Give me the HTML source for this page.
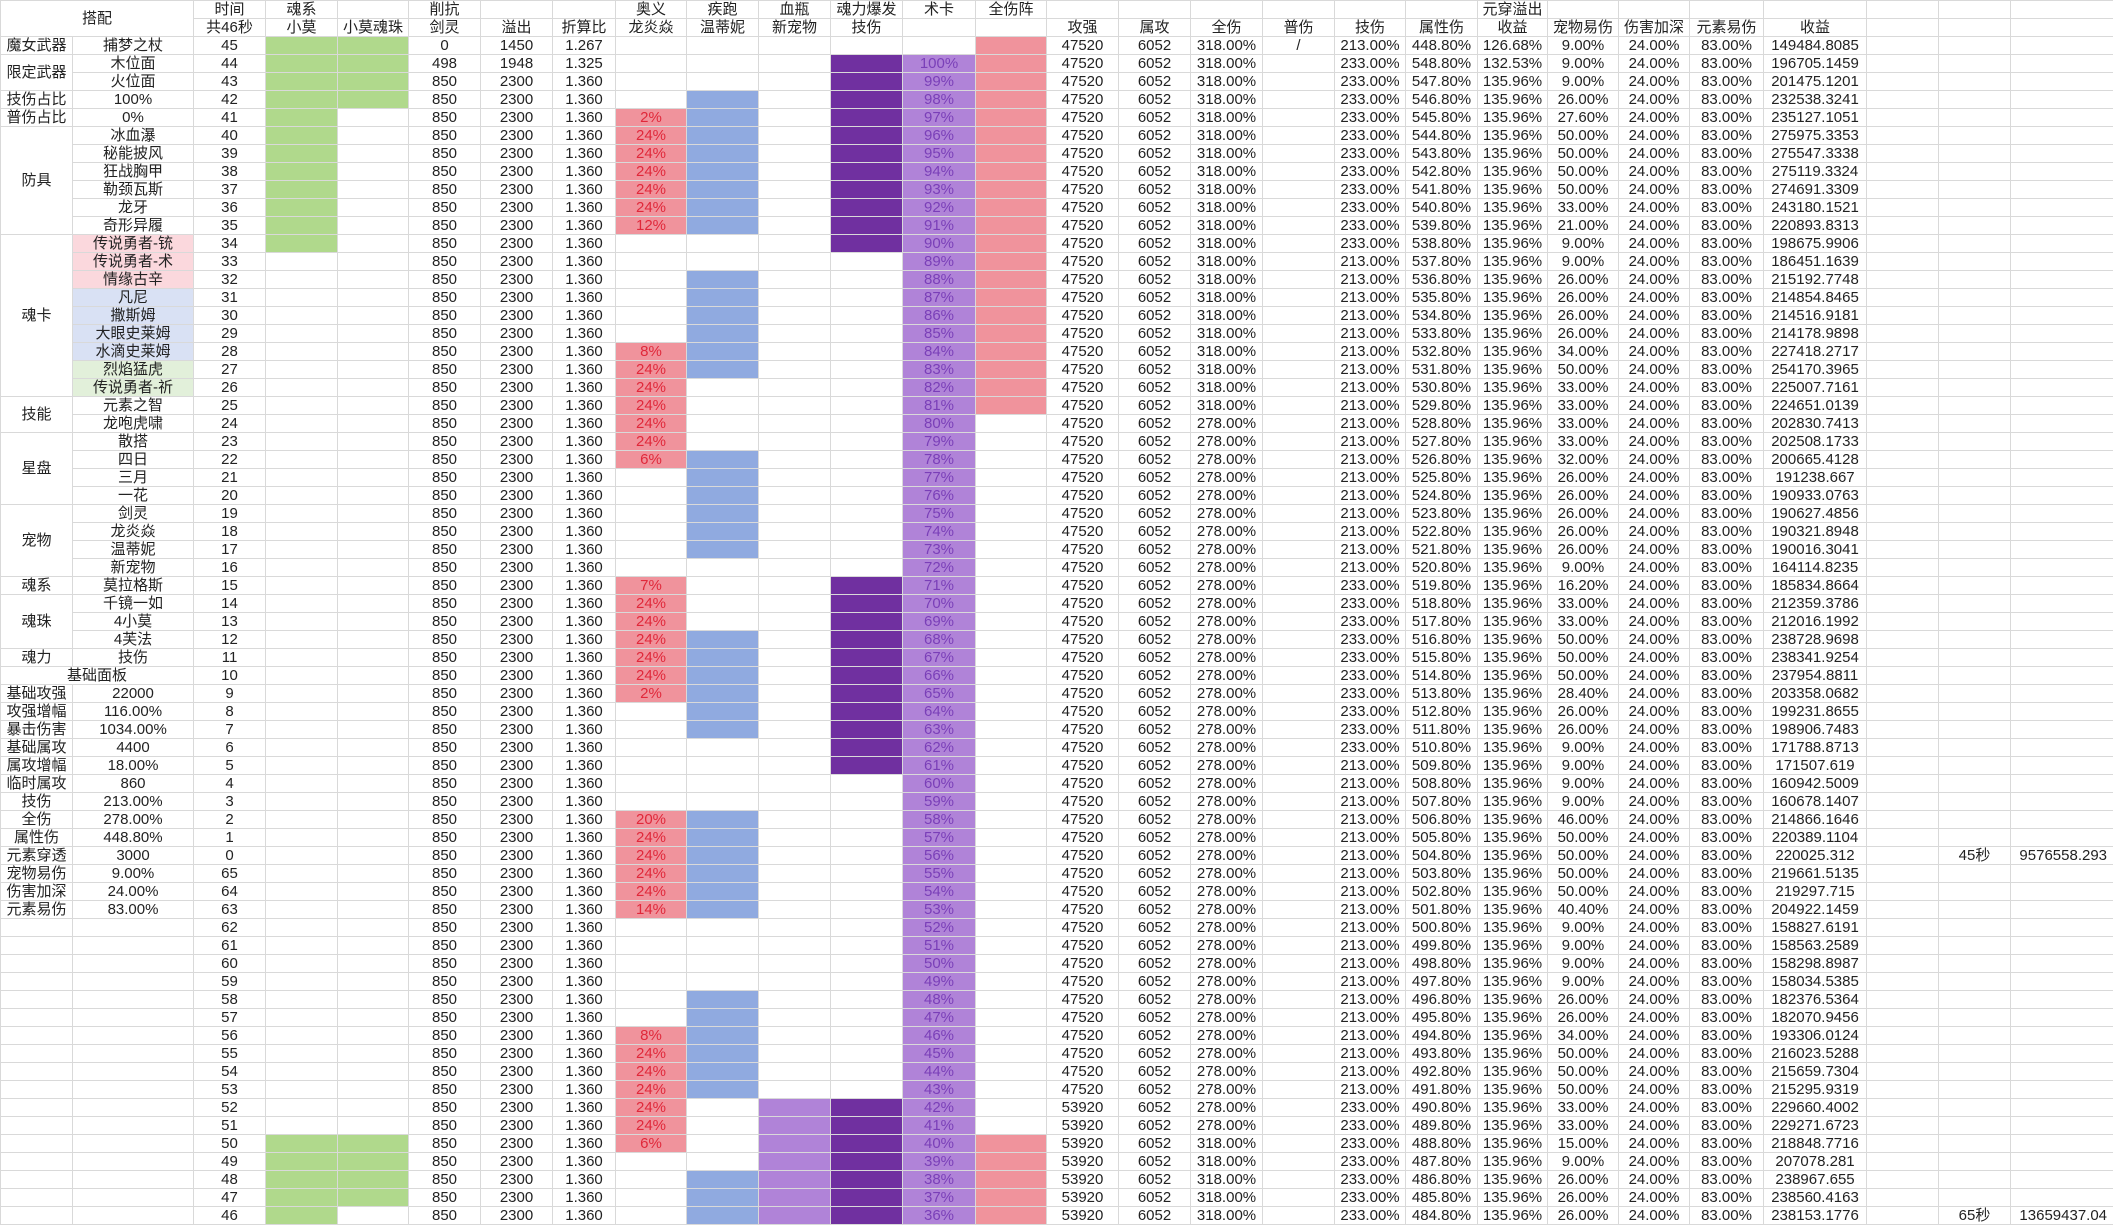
<!DOCTYPE html>
<html><head><meta charset="utf-8">
<style>
html,body{margin:0;padding:0;background:#fff;width:2113px;height:1226px;overflow:hidden}
table{border-collapse:collapse;table-layout:fixed;width:2113px}
td{height:17px;padding:0;border:1px solid #d9d9d9;text-align:center;font-family:"Liberation Sans","Noto Sans CJK SC",sans-serif;font-size:15px;line-height:17px;white-space:nowrap;overflow:hidden;color:#222}
tr{height:18px}
.g{background:#b0d98c}
.p{background:#f0939c;color:#e0283a}
.b{background:#90aae0}
.l{background:#b083d8}
.d{background:#7030a0}
.m{background:#b083d8;color:#7a3fb8}
.n{background:#f0939c}
.pk{background:#fbd8dd}
.bl{background:#d9e1f4}
.gr{background:#e2f0da}
.rr{text-align:right;padding-right:6px}
</style></head><body>
<table>
<colgroup>
<col style="width:72px"><col style="width:121px"><col style="width:72px"><col style="width:72px"><col style="width:71px"><col style="width:72px"><col style="width:72px"><col style="width:63px"><col style="width:71px"><col style="width:72px"><col style="width:72px"><col style="width:72px"><col style="width:73px"><col style="width:71px"><col style="width:72px"><col style="width:72px"><col style="width:72px"><col style="width:72px"><col style="width:71px"><col style="width:72px"><col style="width:70px"><col style="width:71px"><col style="width:71px"><col style="width:74px"><col style="width:103px"><col style="width:72px"><col style="width:72px"><col style="width:103px">
</colgroup>
<tr><td colspan="2" rowspan="2">搭配</td><td>时间</td><td>魂系</td><td></td><td>削抗</td><td></td><td></td><td>奥义</td><td>疾跑</td><td>血瓶</td><td>魂力爆发</td><td>术卡</td><td>全伤阵</td><td></td><td></td><td></td><td></td><td></td><td></td><td>元穿溢出</td><td></td><td></td><td></td><td></td><td></td><td></td><td></td></tr>
<tr><td>共46秒</td><td>小莫</td><td>小莫魂珠</td><td>剑灵</td><td>溢出</td><td>折算比</td><td>龙炎焱</td><td>温蒂妮</td><td>新宠物</td><td>技伤</td><td></td><td></td><td>攻强</td><td>属攻</td><td>全伤</td><td>普伤</td><td>技伤</td><td>属性伤</td><td>收益</td><td>宠物易伤</td><td>伤害加深</td><td>元素易伤</td><td>收益</td><td></td><td></td><td></td></tr>

<tr><td>魔女武器</td><td>捕梦之杖</td><td>45</td><td class="g"></td><td class="g"></td><td>0</td><td>1450</td><td>1.267</td><td></td><td></td><td></td><td></td><td></td><td class="n"></td><td>47520</td><td>6052</td><td>318.00%</td><td>/</td><td>213.00%</td><td>448.80%</td><td>126.68%</td><td>9.00%</td><td>24.00%</td><td>83.00%</td><td>149484.8085</td><td></td><td></td><td></td></tr>
<tr><td rowspan="2">限定武器</td><td>木位面</td><td>44</td><td class="g"></td><td class="g"></td><td>498</td><td>1948</td><td>1.325</td><td></td><td></td><td></td><td class="d"></td><td class="m">100%</td><td class="n"></td><td>47520</td><td>6052</td><td>318.00%</td><td></td><td>233.00%</td><td>548.80%</td><td>132.53%</td><td>9.00%</td><td>24.00%</td><td>83.00%</td><td>196705.1459</td><td></td><td></td><td></td></tr>
<tr><td>火位面</td><td>43</td><td class="g"></td><td class="g"></td><td>850</td><td>2300</td><td>1.360</td><td></td><td></td><td></td><td class="d"></td><td class="m">99%</td><td class="n"></td><td>47520</td><td>6052</td><td>318.00%</td><td></td><td>233.00%</td><td>547.80%</td><td>135.96%</td><td>9.00%</td><td>24.00%</td><td>83.00%</td><td>201475.1201</td><td></td><td></td><td></td></tr>
<tr><td>技伤占比</td><td>100%</td><td>42</td><td class="g"></td><td class="g"></td><td>850</td><td>2300</td><td>1.360</td><td></td><td class="b"></td><td></td><td class="d"></td><td class="m">98%</td><td class="n"></td><td>47520</td><td>6052</td><td>318.00%</td><td></td><td>233.00%</td><td>546.80%</td><td>135.96%</td><td>26.00%</td><td>24.00%</td><td>83.00%</td><td>232538.3241</td><td></td><td></td><td></td></tr>
<tr><td>普伤占比</td><td>0%</td><td>41</td><td class="g"></td><td></td><td>850</td><td>2300</td><td>1.360</td><td class="p">2%</td><td class="b"></td><td></td><td class="d"></td><td class="m">97%</td><td class="n"></td><td>47520</td><td>6052</td><td>318.00%</td><td></td><td>233.00%</td><td>545.80%</td><td>135.96%</td><td>27.60%</td><td>24.00%</td><td>83.00%</td><td>235127.1051</td><td></td><td></td><td></td></tr>
<tr><td rowspan="6">防具</td><td>冰血瀑</td><td>40</td><td class="g"></td><td></td><td>850</td><td>2300</td><td>1.360</td><td class="p">24%</td><td class="b"></td><td></td><td class="d"></td><td class="m">96%</td><td class="n"></td><td>47520</td><td>6052</td><td>318.00%</td><td></td><td>233.00%</td><td>544.80%</td><td>135.96%</td><td>50.00%</td><td>24.00%</td><td>83.00%</td><td>275975.3353</td><td></td><td></td><td></td></tr>
<tr><td>秘能披风</td><td>39</td><td class="g"></td><td></td><td>850</td><td>2300</td><td>1.360</td><td class="p">24%</td><td class="b"></td><td></td><td class="d"></td><td class="m">95%</td><td class="n"></td><td>47520</td><td>6052</td><td>318.00%</td><td></td><td>233.00%</td><td>543.80%</td><td>135.96%</td><td>50.00%</td><td>24.00%</td><td>83.00%</td><td>275547.3338</td><td></td><td></td><td></td></tr>
<tr><td>狂战胸甲</td><td>38</td><td class="g"></td><td></td><td>850</td><td>2300</td><td>1.360</td><td class="p">24%</td><td class="b"></td><td></td><td class="d"></td><td class="m">94%</td><td class="n"></td><td>47520</td><td>6052</td><td>318.00%</td><td></td><td>233.00%</td><td>542.80%</td><td>135.96%</td><td>50.00%</td><td>24.00%</td><td>83.00%</td><td>275119.3324</td><td></td><td></td><td></td></tr>
<tr><td>勒颈瓦斯</td><td>37</td><td class="g"></td><td></td><td>850</td><td>2300</td><td>1.360</td><td class="p">24%</td><td class="b"></td><td></td><td class="d"></td><td class="m">93%</td><td class="n"></td><td>47520</td><td>6052</td><td>318.00%</td><td></td><td>233.00%</td><td>541.80%</td><td>135.96%</td><td>50.00%</td><td>24.00%</td><td>83.00%</td><td>274691.3309</td><td></td><td></td><td></td></tr>
<tr><td>龙牙</td><td>36</td><td class="g"></td><td></td><td>850</td><td>2300</td><td>1.360</td><td class="p">24%</td><td class="b"></td><td></td><td class="d"></td><td class="m">92%</td><td class="n"></td><td>47520</td><td>6052</td><td>318.00%</td><td></td><td>233.00%</td><td>540.80%</td><td>135.96%</td><td>33.00%</td><td>24.00%</td><td>83.00%</td><td>243180.1521</td><td></td><td></td><td></td></tr>
<tr><td>奇形异履</td><td>35</td><td class="g"></td><td></td><td>850</td><td>2300</td><td>1.360</td><td class="p">12%</td><td class="b"></td><td></td><td class="d"></td><td class="m">91%</td><td class="n"></td><td>47520</td><td>6052</td><td>318.00%</td><td></td><td>233.00%</td><td>539.80%</td><td>135.96%</td><td>21.00%</td><td>24.00%</td><td>83.00%</td><td>220893.8313</td><td></td><td></td><td></td></tr>
<tr><td rowspan="9">魂卡</td><td class="pk">传说勇者-铳</td><td>34</td><td class="g"></td><td></td><td>850</td><td>2300</td><td>1.360</td><td></td><td></td><td></td><td class="d"></td><td class="m">90%</td><td class="n"></td><td>47520</td><td>6052</td><td>318.00%</td><td></td><td>233.00%</td><td>538.80%</td><td>135.96%</td><td>9.00%</td><td>24.00%</td><td>83.00%</td><td>198675.9906</td><td></td><td></td><td></td></tr>
<tr><td class="pk">传说勇者-术</td><td>33</td><td></td><td></td><td>850</td><td>2300</td><td>1.360</td><td></td><td></td><td></td><td></td><td class="m">89%</td><td class="n"></td><td>47520</td><td>6052</td><td>318.00%</td><td></td><td>213.00%</td><td>537.80%</td><td>135.96%</td><td>9.00%</td><td>24.00%</td><td>83.00%</td><td>186451.1639</td><td></td><td></td><td></td></tr>
<tr><td class="pk">情缘古辛</td><td>32</td><td></td><td></td><td>850</td><td>2300</td><td>1.360</td><td></td><td class="b"></td><td></td><td></td><td class="m">88%</td><td class="n"></td><td>47520</td><td>6052</td><td>318.00%</td><td></td><td>213.00%</td><td>536.80%</td><td>135.96%</td><td>26.00%</td><td>24.00%</td><td>83.00%</td><td>215192.7748</td><td></td><td></td><td></td></tr>
<tr><td class="bl">凡尼</td><td>31</td><td></td><td></td><td>850</td><td>2300</td><td>1.360</td><td></td><td class="b"></td><td></td><td></td><td class="m">87%</td><td class="n"></td><td>47520</td><td>6052</td><td>318.00%</td><td></td><td>213.00%</td><td>535.80%</td><td>135.96%</td><td>26.00%</td><td>24.00%</td><td>83.00%</td><td>214854.8465</td><td></td><td></td><td></td></tr>
<tr><td class="bl">撒斯姆</td><td>30</td><td></td><td></td><td>850</td><td>2300</td><td>1.360</td><td></td><td class="b"></td><td></td><td></td><td class="m">86%</td><td class="n"></td><td>47520</td><td>6052</td><td>318.00%</td><td></td><td>213.00%</td><td>534.80%</td><td>135.96%</td><td>26.00%</td><td>24.00%</td><td>83.00%</td><td>214516.9181</td><td></td><td></td><td></td></tr>
<tr><td class="bl">大眼史莱姆</td><td>29</td><td></td><td></td><td>850</td><td>2300</td><td>1.360</td><td></td><td class="b"></td><td></td><td></td><td class="m">85%</td><td class="n"></td><td>47520</td><td>6052</td><td>318.00%</td><td></td><td>213.00%</td><td>533.80%</td><td>135.96%</td><td>26.00%</td><td>24.00%</td><td>83.00%</td><td>214178.9898</td><td></td><td></td><td></td></tr>
<tr><td class="bl">水滴史莱姆</td><td>28</td><td></td><td></td><td>850</td><td>2300</td><td>1.360</td><td class="p">8%</td><td class="b"></td><td></td><td></td><td class="m">84%</td><td class="n"></td><td>47520</td><td>6052</td><td>318.00%</td><td></td><td>213.00%</td><td>532.80%</td><td>135.96%</td><td>34.00%</td><td>24.00%</td><td>83.00%</td><td>227418.2717</td><td></td><td></td><td></td></tr>
<tr><td class="gr">烈焰猛虎</td><td>27</td><td></td><td></td><td>850</td><td>2300</td><td>1.360</td><td class="p">24%</td><td class="b"></td><td></td><td></td><td class="m">83%</td><td class="n"></td><td>47520</td><td>6052</td><td>318.00%</td><td></td><td>213.00%</td><td>531.80%</td><td>135.96%</td><td>50.00%</td><td>24.00%</td><td>83.00%</td><td>254170.3965</td><td></td><td></td><td></td></tr>
<tr><td class="gr">传说勇者-祈</td><td>26</td><td></td><td></td><td>850</td><td>2300</td><td>1.360</td><td class="p">24%</td><td></td><td></td><td></td><td class="m">82%</td><td class="n"></td><td>47520</td><td>6052</td><td>318.00%</td><td></td><td>213.00%</td><td>530.80%</td><td>135.96%</td><td>33.00%</td><td>24.00%</td><td>83.00%</td><td>225007.7161</td><td></td><td></td><td></td></tr>
<tr><td rowspan="2">技能</td><td>元素之智</td><td>25</td><td></td><td></td><td>850</td><td>2300</td><td>1.360</td><td class="p">24%</td><td></td><td></td><td></td><td class="m">81%</td><td class="n"></td><td>47520</td><td>6052</td><td>318.00%</td><td></td><td>213.00%</td><td>529.80%</td><td>135.96%</td><td>33.00%</td><td>24.00%</td><td>83.00%</td><td>224651.0139</td><td></td><td></td><td></td></tr>
<tr><td>龙咆虎啸</td><td>24</td><td></td><td></td><td>850</td><td>2300</td><td>1.360</td><td class="p">24%</td><td></td><td></td><td></td><td class="m">80%</td><td></td><td>47520</td><td>6052</td><td>278.00%</td><td></td><td>213.00%</td><td>528.80%</td><td>135.96%</td><td>33.00%</td><td>24.00%</td><td>83.00%</td><td>202830.7413</td><td></td><td></td><td></td></tr>
<tr><td rowspan="4">星盘</td><td>散搭</td><td>23</td><td></td><td></td><td>850</td><td>2300</td><td>1.360</td><td class="p">24%</td><td></td><td></td><td></td><td class="m">79%</td><td></td><td>47520</td><td>6052</td><td>278.00%</td><td></td><td>213.00%</td><td>527.80%</td><td>135.96%</td><td>33.00%</td><td>24.00%</td><td>83.00%</td><td>202508.1733</td><td></td><td></td><td></td></tr>
<tr><td>四日</td><td>22</td><td></td><td></td><td>850</td><td>2300</td><td>1.360</td><td class="p">6%</td><td class="b"></td><td></td><td></td><td class="m">78%</td><td></td><td>47520</td><td>6052</td><td>278.00%</td><td></td><td>213.00%</td><td>526.80%</td><td>135.96%</td><td>32.00%</td><td>24.00%</td><td>83.00%</td><td>200665.4128</td><td></td><td></td><td></td></tr>
<tr><td>三月</td><td>21</td><td></td><td></td><td>850</td><td>2300</td><td>1.360</td><td></td><td class="b"></td><td></td><td></td><td class="m">77%</td><td></td><td>47520</td><td>6052</td><td>278.00%</td><td></td><td>213.00%</td><td>525.80%</td><td>135.96%</td><td>26.00%</td><td>24.00%</td><td>83.00%</td><td>191238.667</td><td></td><td></td><td></td></tr>
<tr><td>一花</td><td>20</td><td></td><td></td><td>850</td><td>2300</td><td>1.360</td><td></td><td class="b"></td><td></td><td></td><td class="m">76%</td><td></td><td>47520</td><td>6052</td><td>278.00%</td><td></td><td>213.00%</td><td>524.80%</td><td>135.96%</td><td>26.00%</td><td>24.00%</td><td>83.00%</td><td>190933.0763</td><td></td><td></td><td></td></tr>
<tr><td rowspan="4">宠物</td><td>剑灵</td><td>19</td><td></td><td></td><td>850</td><td>2300</td><td>1.360</td><td></td><td class="b"></td><td></td><td></td><td class="m">75%</td><td></td><td>47520</td><td>6052</td><td>278.00%</td><td></td><td>213.00%</td><td>523.80%</td><td>135.96%</td><td>26.00%</td><td>24.00%</td><td>83.00%</td><td>190627.4856</td><td></td><td></td><td></td></tr>
<tr><td>龙炎焱</td><td>18</td><td></td><td></td><td>850</td><td>2300</td><td>1.360</td><td></td><td class="b"></td><td></td><td></td><td class="m">74%</td><td></td><td>47520</td><td>6052</td><td>278.00%</td><td></td><td>213.00%</td><td>522.80%</td><td>135.96%</td><td>26.00%</td><td>24.00%</td><td>83.00%</td><td>190321.8948</td><td></td><td></td><td></td></tr>
<tr><td>温蒂妮</td><td>17</td><td></td><td></td><td>850</td><td>2300</td><td>1.360</td><td></td><td class="b"></td><td></td><td></td><td class="m">73%</td><td></td><td>47520</td><td>6052</td><td>278.00%</td><td></td><td>213.00%</td><td>521.80%</td><td>135.96%</td><td>26.00%</td><td>24.00%</td><td>83.00%</td><td>190016.3041</td><td></td><td></td><td></td></tr>
<tr><td>新宠物</td><td>16</td><td></td><td></td><td>850</td><td>2300</td><td>1.360</td><td></td><td></td><td></td><td></td><td class="m">72%</td><td></td><td>47520</td><td>6052</td><td>278.00%</td><td></td><td>213.00%</td><td>520.80%</td><td>135.96%</td><td>9.00%</td><td>24.00%</td><td>83.00%</td><td>164114.8235</td><td></td><td></td><td></td></tr>
<tr><td>魂系</td><td>莫拉格斯</td><td>15</td><td></td><td></td><td>850</td><td>2300</td><td>1.360</td><td class="p">7%</td><td></td><td></td><td class="d"></td><td class="m">71%</td><td></td><td>47520</td><td>6052</td><td>278.00%</td><td></td><td>233.00%</td><td>519.80%</td><td>135.96%</td><td>16.20%</td><td>24.00%</td><td>83.00%</td><td>185834.8664</td><td></td><td></td><td></td></tr>
<tr><td rowspan="3">魂珠</td><td>千镜一如</td><td>14</td><td></td><td></td><td>850</td><td>2300</td><td>1.360</td><td class="p">24%</td><td></td><td></td><td class="d"></td><td class="m">70%</td><td></td><td>47520</td><td>6052</td><td>278.00%</td><td></td><td>233.00%</td><td>518.80%</td><td>135.96%</td><td>33.00%</td><td>24.00%</td><td>83.00%</td><td>212359.3786</td><td></td><td></td><td></td></tr>
<tr><td>4小莫</td><td>13</td><td></td><td></td><td>850</td><td>2300</td><td>1.360</td><td class="p">24%</td><td></td><td></td><td class="d"></td><td class="m">69%</td><td></td><td>47520</td><td>6052</td><td>278.00%</td><td></td><td>233.00%</td><td>517.80%</td><td>135.96%</td><td>33.00%</td><td>24.00%</td><td>83.00%</td><td>212016.1992</td><td></td><td></td><td></td></tr>
<tr><td>4芙法</td><td>12</td><td></td><td></td><td>850</td><td>2300</td><td>1.360</td><td class="p">24%</td><td class="b"></td><td></td><td class="d"></td><td class="m">68%</td><td></td><td>47520</td><td>6052</td><td>278.00%</td><td></td><td>233.00%</td><td>516.80%</td><td>135.96%</td><td>50.00%</td><td>24.00%</td><td>83.00%</td><td>238728.9698</td><td></td><td></td><td></td></tr>
<tr><td>魂力</td><td>技伤</td><td>11</td><td></td><td></td><td>850</td><td>2300</td><td>1.360</td><td class="p">24%</td><td class="b"></td><td></td><td class="d"></td><td class="m">67%</td><td></td><td>47520</td><td>6052</td><td>278.00%</td><td></td><td>233.00%</td><td>515.80%</td><td>135.96%</td><td>50.00%</td><td>24.00%</td><td>83.00%</td><td>238341.9254</td><td></td><td></td><td></td></tr>
<tr><td colspan="2">基础面板</td><td>10</td><td></td><td></td><td>850</td><td>2300</td><td>1.360</td><td class="p">24%</td><td class="b"></td><td></td><td class="d"></td><td class="m">66%</td><td></td><td>47520</td><td>6052</td><td>278.00%</td><td></td><td>233.00%</td><td>514.80%</td><td>135.96%</td><td>50.00%</td><td>24.00%</td><td>83.00%</td><td>237954.8811</td><td></td><td></td><td></td></tr>
<tr><td>基础攻强</td><td>22000</td><td>9</td><td></td><td></td><td>850</td><td>2300</td><td>1.360</td><td class="p">2%</td><td class="b"></td><td></td><td class="d"></td><td class="m">65%</td><td></td><td>47520</td><td>6052</td><td>278.00%</td><td></td><td>233.00%</td><td>513.80%</td><td>135.96%</td><td>28.40%</td><td>24.00%</td><td>83.00%</td><td>203358.0682</td><td></td><td></td><td></td></tr>
<tr><td>攻强增幅</td><td>116.00%</td><td>8</td><td></td><td></td><td>850</td><td>2300</td><td>1.360</td><td></td><td class="b"></td><td></td><td class="d"></td><td class="m">64%</td><td></td><td>47520</td><td>6052</td><td>278.00%</td><td></td><td>233.00%</td><td>512.80%</td><td>135.96%</td><td>26.00%</td><td>24.00%</td><td>83.00%</td><td>199231.8655</td><td></td><td></td><td></td></tr>
<tr><td>暴击伤害</td><td>1034.00%</td><td>7</td><td></td><td></td><td>850</td><td>2300</td><td>1.360</td><td></td><td class="b"></td><td></td><td class="d"></td><td class="m">63%</td><td></td><td>47520</td><td>6052</td><td>278.00%</td><td></td><td>233.00%</td><td>511.80%</td><td>135.96%</td><td>26.00%</td><td>24.00%</td><td>83.00%</td><td>198906.7483</td><td></td><td></td><td></td></tr>
<tr><td>基础属攻</td><td>4400</td><td>6</td><td></td><td></td><td>850</td><td>2300</td><td>1.360</td><td></td><td></td><td></td><td class="d"></td><td class="m">62%</td><td></td><td>47520</td><td>6052</td><td>278.00%</td><td></td><td>233.00%</td><td>510.80%</td><td>135.96%</td><td>9.00%</td><td>24.00%</td><td>83.00%</td><td>171788.8713</td><td></td><td></td><td></td></tr>
<tr><td>属攻增幅</td><td>18.00%</td><td>5</td><td></td><td></td><td>850</td><td>2300</td><td>1.360</td><td></td><td></td><td></td><td class="d"></td><td class="m">61%</td><td></td><td>47520</td><td>6052</td><td>278.00%</td><td></td><td>213.00%</td><td>509.80%</td><td>135.96%</td><td>9.00%</td><td>24.00%</td><td>83.00%</td><td>171507.619</td><td></td><td></td><td></td></tr>
<tr><td>临时属攻</td><td>860</td><td>4</td><td></td><td></td><td>850</td><td>2300</td><td>1.360</td><td></td><td></td><td></td><td></td><td class="m">60%</td><td></td><td>47520</td><td>6052</td><td>278.00%</td><td></td><td>213.00%</td><td>508.80%</td><td>135.96%</td><td>9.00%</td><td>24.00%</td><td>83.00%</td><td>160942.5009</td><td></td><td></td><td></td></tr>
<tr><td>技伤</td><td>213.00%</td><td>3</td><td></td><td></td><td>850</td><td>2300</td><td>1.360</td><td></td><td></td><td></td><td></td><td class="m">59%</td><td></td><td>47520</td><td>6052</td><td>278.00%</td><td></td><td>213.00%</td><td>507.80%</td><td>135.96%</td><td>9.00%</td><td>24.00%</td><td>83.00%</td><td>160678.1407</td><td></td><td></td><td></td></tr>
<tr><td>全伤</td><td>278.00%</td><td>2</td><td></td><td></td><td>850</td><td>2300</td><td>1.360</td><td class="p">20%</td><td class="b"></td><td></td><td></td><td class="m">58%</td><td></td><td>47520</td><td>6052</td><td>278.00%</td><td></td><td>213.00%</td><td>506.80%</td><td>135.96%</td><td>46.00%</td><td>24.00%</td><td>83.00%</td><td>214866.1646</td><td></td><td></td><td></td></tr>
<tr><td>属性伤</td><td>448.80%</td><td>1</td><td></td><td></td><td>850</td><td>2300</td><td>1.360</td><td class="p">24%</td><td class="b"></td><td></td><td></td><td class="m">57%</td><td></td><td>47520</td><td>6052</td><td>278.00%</td><td></td><td>213.00%</td><td>505.80%</td><td>135.96%</td><td>50.00%</td><td>24.00%</td><td>83.00%</td><td>220389.1104</td><td></td><td></td><td></td></tr>
<tr><td>元素穿透</td><td>3000</td><td>0</td><td></td><td></td><td>850</td><td>2300</td><td>1.360</td><td class="p">24%</td><td class="b"></td><td></td><td></td><td class="m">56%</td><td></td><td>47520</td><td>6052</td><td>278.00%</td><td></td><td>213.00%</td><td>504.80%</td><td>135.96%</td><td>50.00%</td><td>24.00%</td><td>83.00%</td><td>220025.312</td><td></td><td>45秒</td><td class="rr">9576558.293</td></tr>
<tr><td>宠物易伤</td><td>9.00%</td><td>65</td><td></td><td></td><td>850</td><td>2300</td><td>1.360</td><td class="p">24%</td><td class="b"></td><td></td><td></td><td class="m">55%</td><td></td><td>47520</td><td>6052</td><td>278.00%</td><td></td><td>213.00%</td><td>503.80%</td><td>135.96%</td><td>50.00%</td><td>24.00%</td><td>83.00%</td><td>219661.5135</td><td></td><td></td><td></td></tr>
<tr><td>伤害加深</td><td>24.00%</td><td>64</td><td></td><td></td><td>850</td><td>2300</td><td>1.360</td><td class="p">24%</td><td class="b"></td><td></td><td></td><td class="m">54%</td><td></td><td>47520</td><td>6052</td><td>278.00%</td><td></td><td>213.00%</td><td>502.80%</td><td>135.96%</td><td>50.00%</td><td>24.00%</td><td>83.00%</td><td>219297.715</td><td></td><td></td><td></td></tr>
<tr><td>元素易伤</td><td>83.00%</td><td>63</td><td></td><td></td><td>850</td><td>2300</td><td>1.360</td><td class="p">14%</td><td class="b"></td><td></td><td></td><td class="m">53%</td><td></td><td>47520</td><td>6052</td><td>278.00%</td><td></td><td>213.00%</td><td>501.80%</td><td>135.96%</td><td>40.40%</td><td>24.00%</td><td>83.00%</td><td>204922.1459</td><td></td><td></td><td></td></tr>
<tr><td></td><td></td><td>62</td><td></td><td></td><td>850</td><td>2300</td><td>1.360</td><td></td><td></td><td></td><td></td><td class="m">52%</td><td></td><td>47520</td><td>6052</td><td>278.00%</td><td></td><td>213.00%</td><td>500.80%</td><td>135.96%</td><td>9.00%</td><td>24.00%</td><td>83.00%</td><td>158827.6191</td><td></td><td></td><td></td></tr>
<tr><td></td><td></td><td>61</td><td></td><td></td><td>850</td><td>2300</td><td>1.360</td><td></td><td></td><td></td><td></td><td class="m">51%</td><td></td><td>47520</td><td>6052</td><td>278.00%</td><td></td><td>213.00%</td><td>499.80%</td><td>135.96%</td><td>9.00%</td><td>24.00%</td><td>83.00%</td><td>158563.2589</td><td></td><td></td><td></td></tr>
<tr><td></td><td></td><td>60</td><td></td><td></td><td>850</td><td>2300</td><td>1.360</td><td></td><td></td><td></td><td></td><td class="m">50%</td><td></td><td>47520</td><td>6052</td><td>278.00%</td><td></td><td>213.00%</td><td>498.80%</td><td>135.96%</td><td>9.00%</td><td>24.00%</td><td>83.00%</td><td>158298.8987</td><td></td><td></td><td></td></tr>
<tr><td></td><td></td><td>59</td><td></td><td></td><td>850</td><td>2300</td><td>1.360</td><td></td><td></td><td></td><td></td><td class="m">49%</td><td></td><td>47520</td><td>6052</td><td>278.00%</td><td></td><td>213.00%</td><td>497.80%</td><td>135.96%</td><td>9.00%</td><td>24.00%</td><td>83.00%</td><td>158034.5385</td><td></td><td></td><td></td></tr>
<tr><td></td><td></td><td>58</td><td></td><td></td><td>850</td><td>2300</td><td>1.360</td><td></td><td class="b"></td><td></td><td></td><td class="m">48%</td><td></td><td>47520</td><td>6052</td><td>278.00%</td><td></td><td>213.00%</td><td>496.80%</td><td>135.96%</td><td>26.00%</td><td>24.00%</td><td>83.00%</td><td>182376.5364</td><td></td><td></td><td></td></tr>
<tr><td></td><td></td><td>57</td><td></td><td></td><td>850</td><td>2300</td><td>1.360</td><td></td><td class="b"></td><td></td><td></td><td class="m">47%</td><td></td><td>47520</td><td>6052</td><td>278.00%</td><td></td><td>213.00%</td><td>495.80%</td><td>135.96%</td><td>26.00%</td><td>24.00%</td><td>83.00%</td><td>182070.9456</td><td></td><td></td><td></td></tr>
<tr><td></td><td></td><td>56</td><td></td><td></td><td>850</td><td>2300</td><td>1.360</td><td class="p">8%</td><td class="b"></td><td></td><td></td><td class="m">46%</td><td></td><td>47520</td><td>6052</td><td>278.00%</td><td></td><td>213.00%</td><td>494.80%</td><td>135.96%</td><td>34.00%</td><td>24.00%</td><td>83.00%</td><td>193306.0124</td><td></td><td></td><td></td></tr>
<tr><td></td><td></td><td>55</td><td></td><td></td><td>850</td><td>2300</td><td>1.360</td><td class="p">24%</td><td class="b"></td><td></td><td></td><td class="m">45%</td><td></td><td>47520</td><td>6052</td><td>278.00%</td><td></td><td>213.00%</td><td>493.80%</td><td>135.96%</td><td>50.00%</td><td>24.00%</td><td>83.00%</td><td>216023.5288</td><td></td><td></td><td></td></tr>
<tr><td></td><td></td><td>54</td><td></td><td></td><td>850</td><td>2300</td><td>1.360</td><td class="p">24%</td><td class="b"></td><td></td><td></td><td class="m">44%</td><td></td><td>47520</td><td>6052</td><td>278.00%</td><td></td><td>213.00%</td><td>492.80%</td><td>135.96%</td><td>50.00%</td><td>24.00%</td><td>83.00%</td><td>215659.7304</td><td></td><td></td><td></td></tr>
<tr><td></td><td></td><td>53</td><td></td><td></td><td>850</td><td>2300</td><td>1.360</td><td class="p">24%</td><td class="b"></td><td></td><td></td><td class="m">43%</td><td></td><td>47520</td><td>6052</td><td>278.00%</td><td></td><td>213.00%</td><td>491.80%</td><td>135.96%</td><td>50.00%</td><td>24.00%</td><td>83.00%</td><td>215295.9319</td><td></td><td></td><td></td></tr>
<tr><td></td><td></td><td>52</td><td></td><td></td><td>850</td><td>2300</td><td>1.360</td><td class="p">24%</td><td></td><td class="l"></td><td class="d"></td><td class="m">42%</td><td></td><td>53920</td><td>6052</td><td>278.00%</td><td></td><td>233.00%</td><td>490.80%</td><td>135.96%</td><td>33.00%</td><td>24.00%</td><td>83.00%</td><td>229660.4002</td><td></td><td></td><td></td></tr>
<tr><td></td><td></td><td>51</td><td></td><td></td><td>850</td><td>2300</td><td>1.360</td><td class="p">24%</td><td></td><td class="l"></td><td class="d"></td><td class="m">41%</td><td></td><td>53920</td><td>6052</td><td>278.00%</td><td></td><td>233.00%</td><td>489.80%</td><td>135.96%</td><td>33.00%</td><td>24.00%</td><td>83.00%</td><td>229271.6723</td><td></td><td></td><td></td></tr>
<tr><td></td><td></td><td>50</td><td class="g"></td><td class="g"></td><td>850</td><td>2300</td><td>1.360</td><td class="p">6%</td><td></td><td class="l"></td><td class="d"></td><td class="m">40%</td><td class="n"></td><td>53920</td><td>6052</td><td>318.00%</td><td></td><td>233.00%</td><td>488.80%</td><td>135.96%</td><td>15.00%</td><td>24.00%</td><td>83.00%</td><td>218848.7716</td><td></td><td></td><td></td></tr>
<tr><td></td><td></td><td>49</td><td class="g"></td><td class="g"></td><td>850</td><td>2300</td><td>1.360</td><td></td><td></td><td class="l"></td><td class="d"></td><td class="m">39%</td><td class="n"></td><td>53920</td><td>6052</td><td>318.00%</td><td></td><td>233.00%</td><td>487.80%</td><td>135.96%</td><td>9.00%</td><td>24.00%</td><td>83.00%</td><td>207078.281</td><td></td><td></td><td></td></tr>
<tr><td></td><td></td><td>48</td><td class="g"></td><td class="g"></td><td>850</td><td>2300</td><td>1.360</td><td></td><td class="b"></td><td class="l"></td><td class="d"></td><td class="m">38%</td><td class="n"></td><td>53920</td><td>6052</td><td>318.00%</td><td></td><td>233.00%</td><td>486.80%</td><td>135.96%</td><td>26.00%</td><td>24.00%</td><td>83.00%</td><td>238967.655</td><td></td><td></td><td></td></tr>
<tr><td></td><td></td><td>47</td><td class="g"></td><td class="g"></td><td>850</td><td>2300</td><td>1.360</td><td></td><td class="b"></td><td class="l"></td><td class="d"></td><td class="m">37%</td><td class="n"></td><td>53920</td><td>6052</td><td>318.00%</td><td></td><td>233.00%</td><td>485.80%</td><td>135.96%</td><td>26.00%</td><td>24.00%</td><td>83.00%</td><td>238560.4163</td><td></td><td></td><td></td></tr>
<tr><td></td><td></td><td>46</td><td class="g"></td><td></td><td>850</td><td>2300</td><td>1.360</td><td></td><td class="b"></td><td class="l"></td><td class="d"></td><td class="m">36%</td><td class="n"></td><td>53920</td><td>6052</td><td>318.00%</td><td></td><td>233.00%</td><td>484.80%</td><td>135.96%</td><td>26.00%</td><td>24.00%</td><td>83.00%</td><td>238153.1776</td><td></td><td>65秒</td><td class="rr">13659437.04</td></tr>
</table>
</body></html>
